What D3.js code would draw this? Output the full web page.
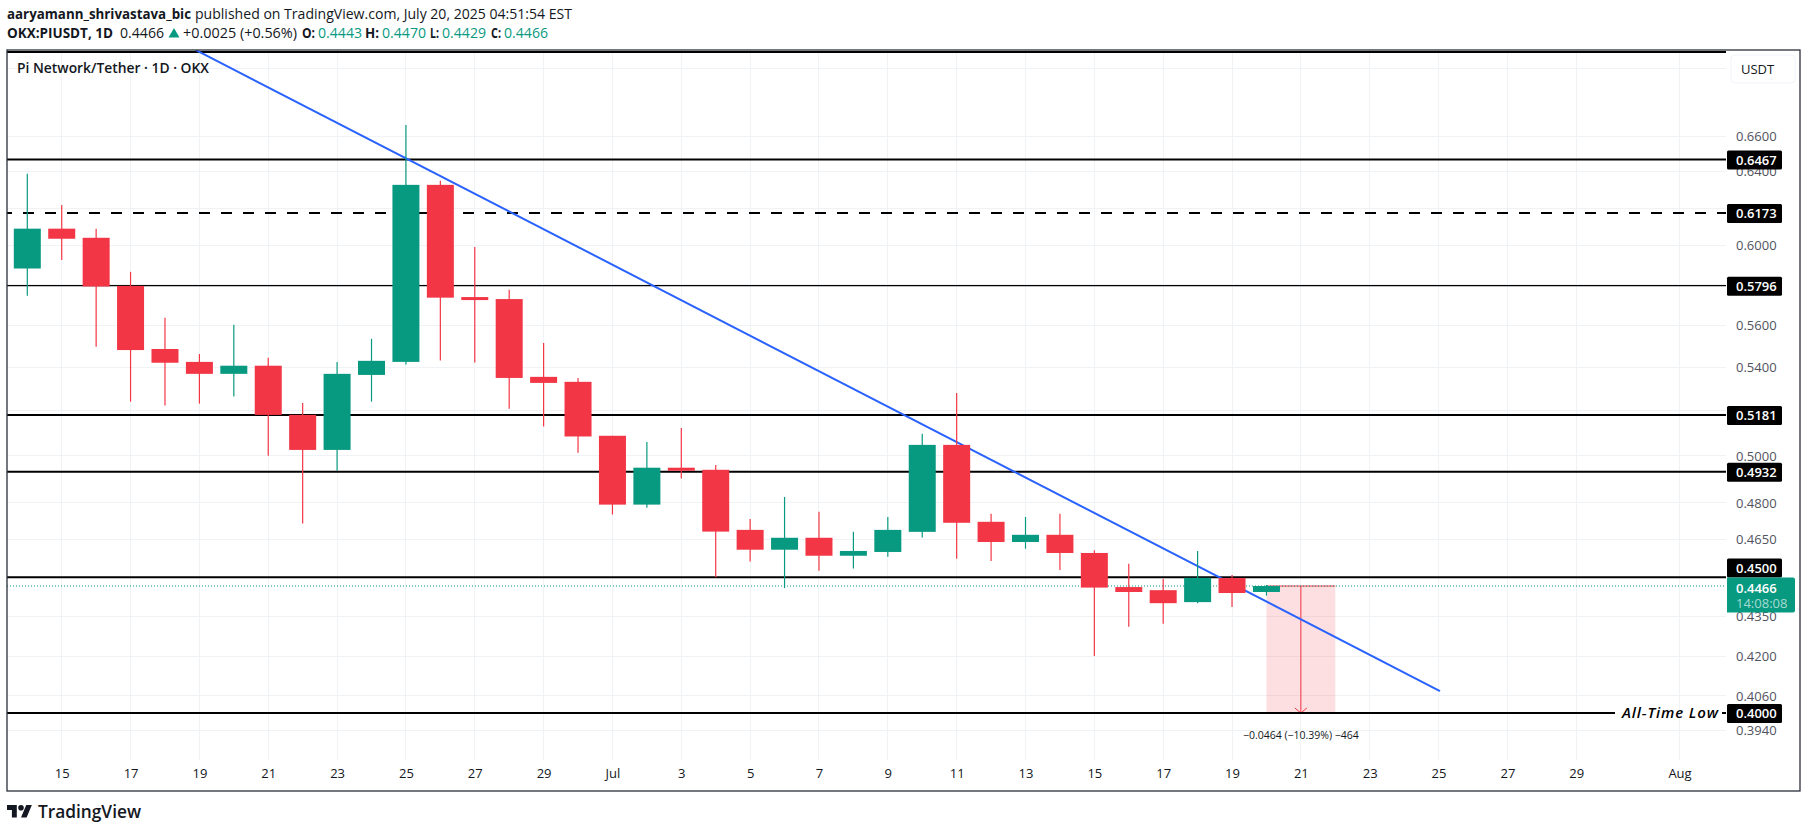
<!DOCTYPE html>
<html><head><meta charset="utf-8">
<script src="https://cdnjs.cloudflare.com/ajax/libs/d3/7.8.5/d3.min.js"></script>
<style>html,body{margin:0;padding:0;background:#fff}svg{display:block}text{font-family:"Open Sans",sans-serif}</style>
</head><body><svg id="c" width="1808" height="833"></svg>
<script>
const firstDay = "2025-06-14";
const opens  = [.5883,.6090,.6042,.5795,.5486,.5425,.5369,.5407,.5181,.5026,.5364,.5425,.6326,.5739,.5729,.5355,.5332,.5088,.4793,.4949,.4940,.4689,.4609,.4657,.4585,.4600,.4681,.5048,.4722,.4640,.4669,.4596,.4462,.4450,.4404,.4497,.4443];
const highs  = [.6387,.6217,.6090,.5866,.5637,.5462,.5603,.5444,.5235,.5425,.5535,.6663,.6349,.5994,.5775,.5515,.5350,.5088,.5061,.5123,.4961,.4734,.4825,.4763,.4681,.4742,.5097,.5281,.4755,.4742,.4755,.4607,.4553,.4493,.4604,.4509,.4470];
const lows   = [.5746,.5927,.5497,.5241,.5223,.5232,.5264,.5001,.4715,.4936,.5241,.5413,.5431,.5422,.5209,.5129,.5014,.4752,.4780,.4903,.4500,.4562,.4458,.4526,.4534,.4581,.4658,.4573,.4564,.4613,.4529,.4203,.4311,.4322,.4400,.4385,.4429];
const closes = [.6090,.6037,.5792,.5481,.5421,.5369,.5407,.5181,.5026,.5369,.5430,.6326,.5736,.5724,.5350,.5327,.5085,.4793,.4949,.4936,.4682,.4609,.4657,.4585,.4604,.4689,.5048,.4718,.4640,.4669,.4596,.4460,.4443,.4400,.4498,.4439,.4466];

const gridPrices = [.70,.66,.64,.62,.60,.58,.56,.54,.52,.50,.48,.465,.45,.435,.42,.406,.394];
const priceTicks = [.66,.64,.62,.60,.56,.54,.50,.48,.465,.435,.42,.406,.394];
const timeTicks = ["2025-06-15","2025-06-17","2025-06-19","2025-06-21","2025-06-23","2025-06-25","2025-06-27","2025-06-29","2025-07-01","2025-07-03","2025-07-05","2025-07-07","2025-07-09","2025-07-11","2025-07-13","2025-07-15","2025-07-17","2025-07-19","2025-07-21","2025-07-23","2025-07-25","2025-07-27","2025-07-29","2025-08-01"];

const levelPrices = [.6467,.6173,.5796,.5181,.4932,.45,.40];
const levelWidths = [2,2,1.2,2,2,2,2];
const levelDashed = [false,true,false,false,false,false,false];
const topLevel = .7099;
const lastPrice = .4466;
const countdown = "14:08:08";
const trendDates = ["2025-06-18T21:17Z","2025-07-25T01:00Z"];
const trendPrices = [.7112,.4077];
const measureDates = ["2025-07-20","2025-07-22"];
const measurePrices = [.4466,.40];
const measureText = "\u22120.0464 (\u221210.39%) \u2212464";

const GREEN="#089981", RED="#F23645", INK="#131722", BLUE="#2962FF";
const L=7,R=1726,T=50,PB=760,FB=791,FR=1800;
const day = s => new Date(s.length===10 ? s+"T00:00:00Z" : s);
const x = d3.scaleUtc().domain([day(firstDay),day("2025-08-01")]).range([27.3,1679.5]);
const y = d3.scaleLog().domain([.40,.66]).range([713,136]);
const svg = d3.select("#c");
svg.append("defs").append("clipPath").attr("id","pane").append("rect").attr("x",L).attr("y",T).attr("width",R-L).attr("height",PB-T);
svg.append("rect").attr("width",1808).attr("height",833).attr("fill","#fff");

// grid
const grid = svg.append("g").attr("stroke","#f0f3f5").attr("stroke-width",1).attr("shape-rendering","crispEdges");
grid.selectAll(".h").data(gridPrices).join("line").attr("x1",L).attr("x2",R).attr("y1",d=>y(d)).attr("y2",d=>y(d));
grid.selectAll(".v").data(timeTicks).join("line").attr("x1",d=>x(day(d))).attr("x2",d=>x(day(d))).attr("y1",T).attr("y2",PB);

const pane = svg.append("g").attr("clip-path","url(#pane)");
// measure box
const mx0=x(day(measureDates[0])), mx1=x(day(measureDates[1])), my0=y(measurePrices[0]), my1=y(measurePrices[1]);
pane.append("rect").attr("x",mx0).attr("y",my0).attr("width",mx1-mx0).attr("height",my1-my0).attr("fill",RED).attr("fill-opacity",.16);
pane.append("line").attr("x1",mx0).attr("x2",mx1).attr("y1",my0).attr("y2",my0).attr("stroke",RED).attr("stroke-width",1);
const mxc=(mx0+mx1)/2;
pane.append("line").attr("x1",mxc).attr("x2",mxc).attr("y1",my0).attr("y2",my1).attr("stroke",RED).attr("stroke-width",1);
pane.append("path").attr("d",`M${mxc-6},${my1-5}L${mxc},${my1}L${mxc+6},${my1-5}`).attr("fill","none").attr("stroke",RED).attr("stroke-width",1);

// levels
pane.append("line").attr("x1",L).attr("x2",R).attr("y1",y(topLevel)).attr("y2",y(topLevel)).attr("stroke","#000").attr("stroke-width",2);
levelPrices.forEach((p,i)=>{
  const l=pane.append("line").attr("x1",L).attr("x2",R).attr("y1",y(p)).attr("y2",y(p)).attr("stroke","#000").attr("stroke-width",levelWidths[i]);
  if(levelDashed[i]) l.attr("stroke-dasharray","11 11").attr("stroke-dashoffset",6);
});
// gap in the All-Time Low line
svg.append("rect").attr("x",1615).attr("y",y(.40)-3).attr("width",107).attr("height",6).attr("fill","#fff");
svg.append("text").attr("x",1622).attr("y",y(.40)).attr("dy","0.35em").attr("font-size",15).attr("font-style","italic").attr("font-weight",600).attr("fill","#000").attr("textLength",96).attr("lengthAdjust","spacing").text("All-Time Low");

// last price dotted
pane.append("line").attr("x1",L).attr("x2",R).attr("y1",y(lastPrice)).attr("y2",y(lastPrice)).attr("stroke",GREEN).attr("stroke-width",1).attr("stroke-dasharray","1 2");
// trend line
const tl=d3.line().x(d=>x(d[0])).y(d=>y(d[1]));
pane.append("path").attr("d",tl(trendDates.map((d,i)=>[day(d),trendPrices[i]]))).attr("fill","none").attr("stroke",BLUE).attr("stroke-width",2);

// candles
const candles=opens.map((o,i)=>({t:d3.utcDay.offset(day(firstDay),i),o,h:highs[i],l:lows[i],c:closes[i]}));
const W=27;
const cg=pane.selectAll(".c").data(candles).join("g").attr("fill",d=>d.c>=d.o?GREEN:RED).attr("stroke",d=>d.c>=d.o?GREEN:RED);
cg.append("line").attr("x1",d=>x(d.t)).attr("x2",d=>x(d.t)).attr("y1",d=>y(d.h)).attr("y2",d=>y(d.l)).attr("stroke-width",1.2);
cg.append("rect").attr("x",d=>x(d.t)-W/2).attr("width",W).attr("y",d=>y(Math.max(d.o,d.c))).attr("height",d=>Math.max(1,Math.abs(y(d.o)-y(d.c)))).attr("stroke","none");

svg.append("text").attr("x",mxc).attr("y",735).attr("dy","0.35em").attr("text-anchor","middle").attr("font-size",10.5).attr("fill",INK).text(measureText);

// axes
const ax=svg.append("g").attr("transform",`translate(${R+10},0)`).call(d3.axisRight(y).tickValues(priceTicks).tickSize(0).tickPadding(0).tickFormat(d3.format(".4f")));
ax.select(".domain").remove();
ax.selectAll("text").attr("font-size",13).attr("font-family",'"Open Sans",sans-serif').attr("fill","#50535e");
const bx=svg.append("g").attr("transform",`translate(0,${PB+6})`).call(d3.axisBottom(x).tickValues(timeTicks.map(day)).tickSize(0).tickPadding(3).tickFormat(d=>{
  const dd=d.getUTCDate(); return dd===1?d3.utcFormat("%b")(d):String(dd);}));
bx.select(".domain").remove();
bx.selectAll("text").attr("font-size",13).attr("font-family",'"Open Sans",sans-serif').attr("fill",INK);

// USDT button
svg.append("rect").attr("x",1731).attr("y",55).attr("width",64).attr("height",28).attr("rx",4).attr("fill","#fff").attr("stroke","#f0f3fa");
svg.append("text").attr("x",1741).attr("y",69).attr("dy","0.35em").attr("font-size",13).attr("fill",INK).text("USDT");

// price labels
const LH=19, LX=1727, LW=55;
const lastTop=y(lastPrice)-8.5;
levelPrices.forEach(p=>{
  let top=y(p)-LH/2+.5;
  if(top+LH>lastTop && top<lastTop+35) top=lastTop-LH;
  svg.append("rect").attr("x",LX).attr("y",top).attr("width",LW).attr("height",LH).attr("rx",1.5).attr("fill","#000");
  svg.append("text").attr("x",LX+9).attr("y",top+LH/2).attr("dy","0.35em").attr("font-size",13).attr("font-weight",600).attr("fill","#fff").text(d3.format(".4f")(p));
});
svg.append("path").attr("d",`M${LX},${lastTop}H${LX+66}a2,2 0 0 1 2,2V${lastTop+33}a2,2 0 0 1 -2,2H${LX}Z`).attr("fill",GREEN);
svg.append("text").attr("x",LX+9).attr("y",lastTop+10.5).attr("dy","0.35em").attr("font-size",13).attr("font-weight",600).attr("fill","#fff").text(d3.format(".4f")(lastPrice));
svg.append("text").attr("x",LX+9).attr("y",lastTop+26).attr("dy","0.35em").attr("font-size",13).attr("fill","#fff").attr("fill-opacity",.65).text(countdown);

// frame
svg.append("rect").attr("x",L).attr("y",T).attr("width",FR-L).attr("height",FB-T).attr("fill","none").attr("stroke","#2a2e39").attr("stroke-width",1.3);

// header
const hdr=(xx,yy,s,w,c,len,fs)=>svg.append("text").attr("x",xx).attr("y",yy).attr("dy","0.35em").attr("font-size",fs||14).attr("font-weight",w).attr("fill",c).attr("textLength",len).attr("lengthAdjust","spacingAndGlyphs").text(s);
hdr(7,14,"aaryamann_shrivastava_bic",700,INK,184);
hdr(195,14,"published on TradingView.com, July 20, 2025 04:51:54 EST",400,INK,377);
hdr(7,33,"OKX:PIUSDT, 1D",700,INK,106);
hdr(120,33,"0.4466",400,INK,44);
svg.append("path").attr("d","M168.5,37.5L174,28L179.5,37.5Z").attr("fill",GREEN);
hdr(183,33,"+0.0025 (+0.56%)",400,INK,114);
[["O:","0.4443",302,318,13],["H:","0.4470",365,382,14],["L:","0.4429",430,442,9],["C:","0.4466",491,504,10]].forEach(a=>{
  hdr(a[2],33,a[0],700,INK,a[4]); hdr(a[3],33,a[1],400,GREEN,44);
});
hdr(17,68,"Pi Network/Tether \u00b7 1D \u00b7 OKX",600,INK,192,14.5);

// logo
const lg=svg.append("g").attr("transform","translate(7,802.2) scale(.7)").attr("fill",INK);
lg.append("path").attr("d","M14 22H7V11H0V4h14v18zM28 22h-8l7.5-18h8L28 22z");
lg.append("circle").attr("cx",20).attr("cy",8).attr("r",4);
svg.append("text").attr("x",38).attr("y",811.5).attr("dy","0.35em").attr("font-size",18).attr("font-weight",600).attr("fill",INK).attr("textLength",103).attr("lengthAdjust","spacingAndGlyphs").text("TradingView");
</script></body></html>
